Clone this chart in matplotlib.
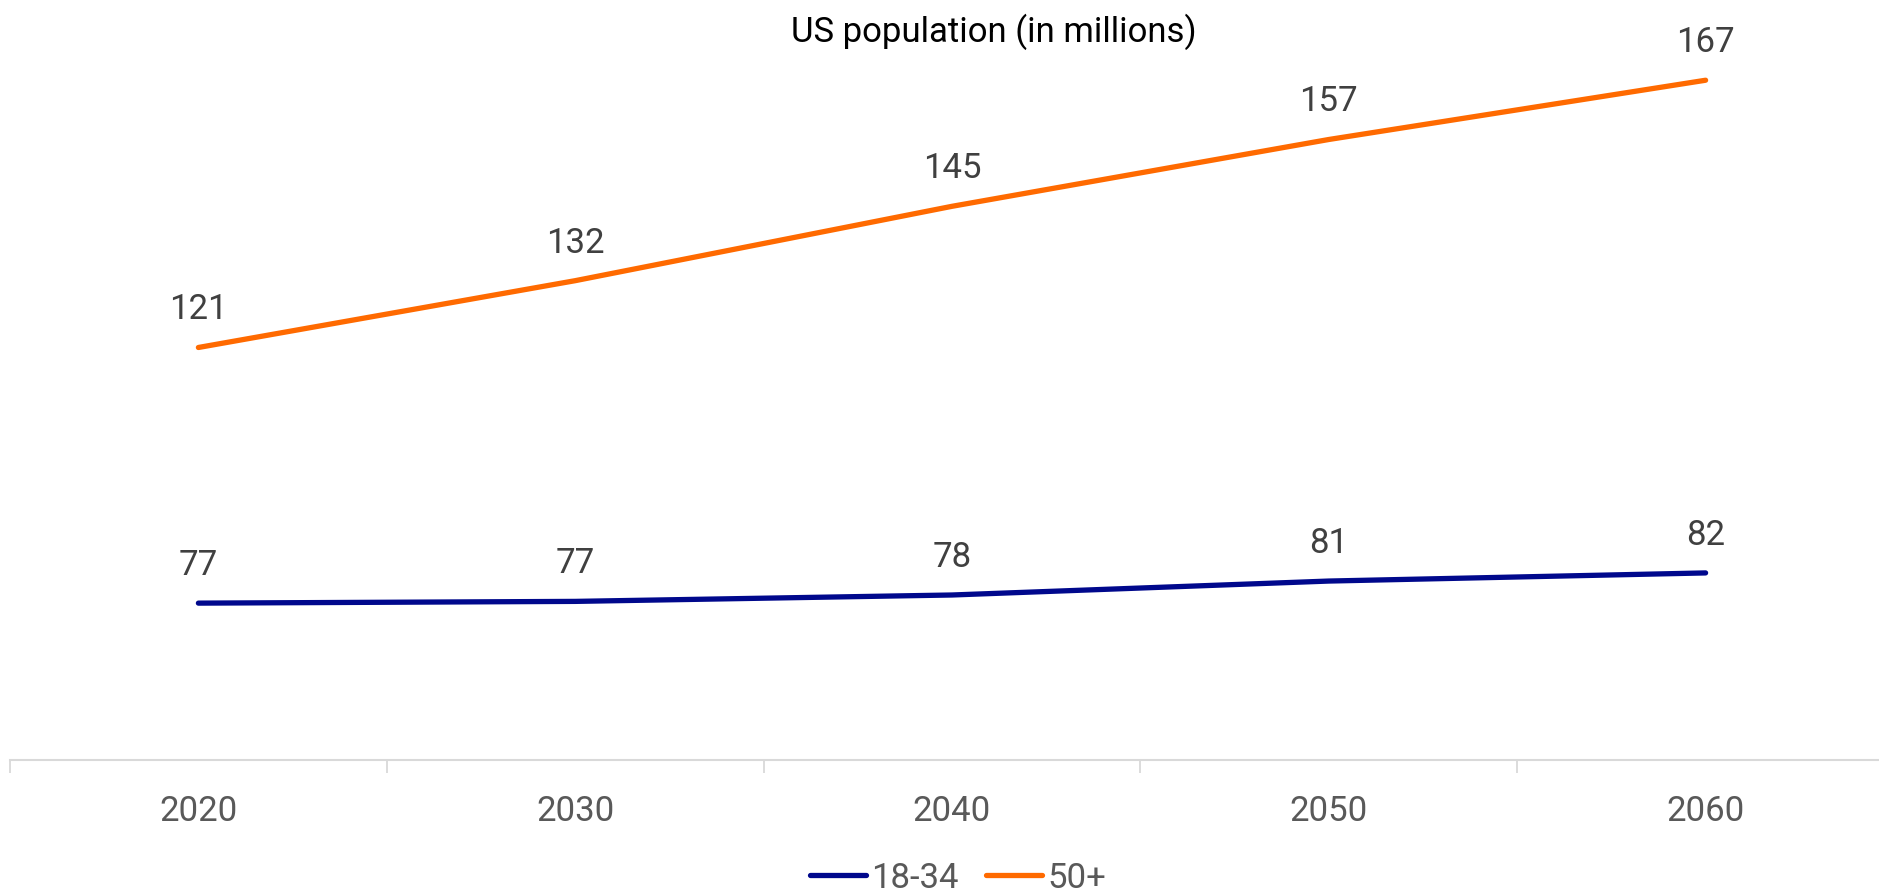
import matplotlib.pyplot as plt
import numpy as np

plt.rcParams['font.family'] = ['Roboto', 'DejaVu Sans']

years = ['2020', '2030', '2040', '2050', '2060']
young = [77.0, 77.3, 78.4, 80.8, 82.2]
young_labels = ['77', '77', '78', '81', '82']
older = [121.0, 132.5, 145.3, 156.8, 167.0]
older_labels = ['121', '132', '145', '157', '167']

blue = '#00088C'
orange = '#FF6A00'
label_col = '#404040'
tick_col = '#595959'
axis_col = '#D9D9D9'
fs = 25

fig = plt.figure(figsize=(18.79, 8.93), dpi=100)
ax = fig.add_axes([10 / 1879, 1 - 760 / 893, 1884 / 1879, 120 * 5.81 / 893])

x = np.arange(len(years))
ax.plot(x, young, color=blue, lw=3.8, solid_capstyle='round', label='18-34')
ax.plot(x, older, color=orange, lw=3.8, solid_capstyle='round', label='50+')

for xi, v, t in zip(x, young, young_labels):
    ax.annotate(t, (xi, v), xytext=(0, 27), textcoords='offset points',
                ha='center', va='center', fontsize=fs, color=label_col)
for xi, v, t in zip(x, older, older_labels):
    ax.annotate(t, (xi, v), xytext=(0, 27), textcoords='offset points',
                ha='center', va='center', fontsize=fs, color=label_col)

ax.set_xlim(-0.5, 4.5)
ax.set_ylim(50, 170)
ax.set_xticks(x)
ax.set_xticklabels(years, fontsize=fs, color=tick_col)
ax.tick_params(axis='x', which='major', length=0, pad=25)
ax.set_xticks(np.arange(-0.5, 5, 1), minor=True)
ax.tick_params(axis='x', which='minor', length=9, width=1.3, color=axis_col)
ax.set_yticks([])
for s in ['top', 'right', 'left']:
    ax.spines[s].set_visible(False)
ax.spines['bottom'].set_color(axis_col)
ax.spines['bottom'].set_linewidth(1.5)

fig.text(994 / 1879, 1 - 32 / 893, 'US population (in millions)', ha='center', va='center',
         fontsize=fs, color='black')

fig.legend(loc='center', bbox_to_anchor=(958 / 1879, 1 - 878 / 893), ncol=2, frameon=False,
           fontsize=fs, handlelength=1.6, handletextpad=0.15,
           columnspacing=0.8, labelcolor=tick_col, borderpad=0)

fig.savefig('out.png', dpi=100)
